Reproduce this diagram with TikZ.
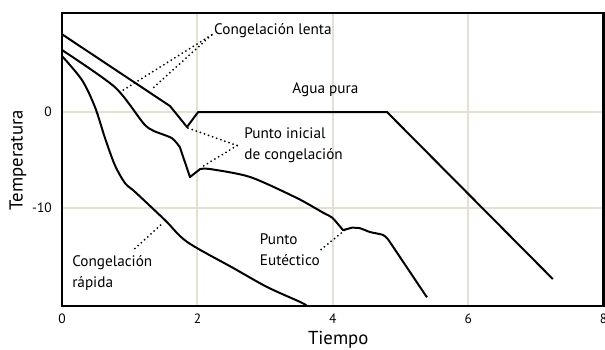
\documentclass[tikz,border=0pt]{standalone}
\usepackage{fontspec}
\setmainfont{PT Sans}
\usetikzlibrary{calc}

\definecolor{rejillacol}{RGB}{228,225,210}

\tikzset{
  curva/.style={line width=1.7pt, line join=round},
  guia/.style={line width=1.7pt, line cap=round, dash pattern=on 0pt off 3.7pt},
  rejilla/.style={draw=rejillacol, line width=1.7pt},
  marco/.style={line width=2.3pt},
  etiqueta/.style={font=\fontsize{13}{18}\selectfont, align=left, inner sep=0pt, anchor=west},
  marca/.style={font=\fontsize{11.5}{13}\selectfont, inner sep=0pt},
  titulo/.style={font=\fontsize{16}{18}\selectfont, inner sep=0pt},
}

\begin{document}
\begin{tikzpicture}[x=2.031cm, y=0.288cm]
    \useasboundingbox (-0.916,-24.69) rectangle (8.02,11.67);

    % rejilla
    \foreach \t in {2,4,6}
        \draw[rejilla] (\t,-20.2) -- (\t,10.3);
    \foreach \T in {0,-10}
        \draw[rejilla] (0,\T) -- (8,\T);

    % agua pura
    \draw[curva] (0,8.1) -- (1.595,0.625) -- (1.846,-1.56) -- (2.01,0) -- (4.80,0) -- (7.25,-17.4);

    % congelacion lenta
    \draw[curva] plot[smooth,tension=0.45] coordinates {(0,6.46) (0.78,2.6) (1.2,-1.15) (1.35,-1.95) (1.62,-2.71) (1.74,-3.65)}
        -- (1.89,-6.77)
        -- plot[smooth,tension=0.45] coordinates {(2.04,-5.94) (2.19,-5.94) (2.78,-6.77) (3.47,-8.96) (3.86,-10.5) (3.99,-11.0) (4.15,-12.3)}
        -- plot[smooth,tension=0.45] coordinates {(4.28,-12.05) (4.40,-12.1) (4.55,-12.5) (4.74,-12.8) (4.82,-13.3)}
        -- (5.39,-19.3);

    % congelacion rapida
    \draw[curva] plot[smooth,tension=0.5] coordinates {(0,5.83) (0.295,3.33) (0.487,0.52) (0.635,-2.71) (0.78,-5.52) (0.93,-7.40) (1.08,-8.33) (1.52,-11.25) (1.85,-13.54) (2.53,-16.25) (3.03,-18.23) (3.52,-19.79) (3.62,-20.2)};

    \draw[marco] (0,-20.2) rectangle (8,10.3);

    % ejes
    \foreach \t in {0,2,4,6,8}
        \node[marca] (tx\t) at (\t,-21.56) {\t};
    \node[marca, anchor=east] (ty0) at (-0.148,0) {0};
    \node[marca, anchor=east] (ty10) at (-0.148,-10) {-10};
    \node[titulo] (xlabel) at (4.08,-23.75) {Tiempo};
    \node[titulo, rotate=90] (ylabel) at (-0.65,-5.0) {Temperatura};

    % textos
    \node[etiqueta] (lenta) at (2.245,8.44) {Congelación lenta};
    \node[etiqueta] (agua) at (3.40,2.29) {Agua pura};
    \node[etiqueta] (inicial) at (2.69,-3.49) {Punto inicial\\de congelación};
    \node[etiqueta] (rapida) at (0.148,-16.8) {Congelación\\rápida};
    \node[etiqueta] (eutectico) at (2.92,-14.32) {Punto\\Eutéctico};

    \coordinate (l1) at (0.857,2.08);
    \coordinate (l2) at (1.344,2.5);
    \coordinate (i1) at (1.86,-1.67);
    \coordinate (i2) at (2.04,-5.83);
    \coordinate (r1) at (1.49,-11.56);
    \coordinate (e1) at (4.18,-12.29);

    \draw[guia] ([xshift=-2pt]lenta.base west) -- (l1);
    \draw[guia] ([xshift=-2pt]lenta.base west) -- (l2);
    \draw[guia] ([xshift=-6pt]inicial.west) -- (i1);
    \draw[guia] ([xshift=-6pt]inicial.west) -- (i2);
    \draw[guia] ([xshift=-15pt,yshift=6pt]rapida.north east) -- (r1);
    \draw[guia] ([xshift=1pt]eutectico.east) -- (e1);
\end{tikzpicture}
\end{document}
